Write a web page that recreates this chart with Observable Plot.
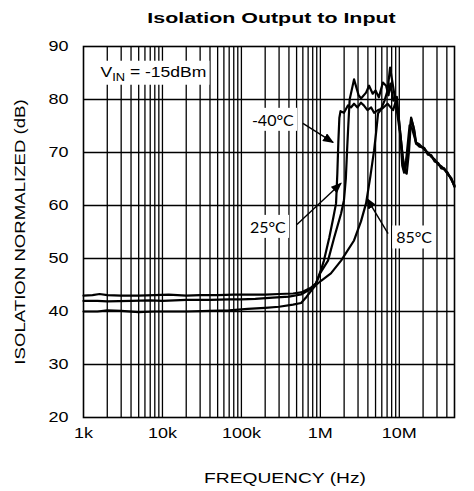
<!DOCTYPE html>
<html><head><meta charset="utf-8">
<script src="https://cdn.jsdelivr.net/npm/d3@7"></script>
<script src="https://cdn.jsdelivr.net/npm/@observablehq/plot@0.6"></script>
<style>body{margin:0;background:#fff} #chart svg{display:block}</style>
</head><body><div id="chart"></div>
<script>
// ---- axis / tick data ----
const xTicks = [1e3, 1e4, 1e5, 1e6, 1e7, 5e7];
const xTickLabels = ["1k", "10k", "100k", "1M", "10M", "50M"];
const yTicks = [20, 30, 40, 50, 60, 70, 80, 90];
const xGrid = [2e3,3e3,4e3,5e3,6e3,7e3,8e3,9e3,1e4,2e4,3e4,4e4,5e4,6e4,7e4,8e4,9e4,1e5,2e5,3e5,4e5,5e5,6e5,7e5,8e5,9e5,1e6,2e6,3e6,4e6,5e6,6e6,7e6,8e6,9e6,1e7,2e7,3e7,4e7];
const yGrid = [30, 40, 50, 60, 70, 80];

const titleText = "Isolation Output to Input";
const xLabel = "FREQUENCY (Hz)";
const yLabel = "ISOLATION NORMALIZED (dB)";

// ---- series (frequency in Hz, isolation in dB) ----
const freqM40 = [1e3,1.3e3,1.6e3,2e3,3e3,5e3,8e3,1.2e4,2e4,3e4,5e4,8e4,1.2e5,2e5,3e5,4.5e5,5.7e5,7.6e5,8.8e5,1.0e6,1.11e6,1.3e6,1.45e6,1.58e6,1.64e6,1.69e6,1.74e6,1.8e6,1.99e6,2.24e6,2.44e6,2.67e6,2.95e6,3.27e6,3.55e6,3.95e6,4.4e6,4.79e6,5.38e6,6.1e6,7.1e6,8.34e6,9.1e6,9.9e6,1.1e7,1.18e7,1.29e7,1.41e7,1.5e7,1.63e7,1.8e7,2.06e7,2.3e7,2.53e7,2.8e7,3.11e7,3.4e7,3.7e7,4.1e7,4.54e7,5e7];
const dbM40   = [43.0,43.1,43.3,43.1,43.0,43.0,43.1,43.2,43.0,43.1,43.1,43.2,43.2,43.2,43.3,43.4,43.6,44.5,45.3,47.5,49.6,54.0,57.5,60.4,66.0,72.0,76.5,77.8,77.5,78.9,78.5,79.2,78.5,79.4,78.9,78.0,78.5,77.5,78.0,78.3,79.2,78.0,79.8,76.0,69.4,66.6,70.4,76.4,75.0,71.7,71.3,70.8,69.8,69.4,68.5,67.9,67.2,67.0,66.0,65.1,63.6];

const freq25 = [1e3,1.5e3,2e3,4e3,7e3,1e4,2e4,4e4,7e4,1e5,1.5e5,2.5e5,4e5,5.7e5,7.6e5,8.8e5,1.0e6,1.25e6,1.5e6,1.83e6,1.99e6,2.1e6,2.18e6,2.24e6,2.35e6,2.67e6,3.05e6,3.27e6,3.79e6,4.14e6,4.6e6,5.0e6,5.5e6,6.2e6,6.8e6,7.3e6,7.7e6,8.4e6,9.3e6,1.02e7,1.09e7,1.15e7,1.22e7,1.35e7,1.45e7,1.63e7,1.8e7,2.06e7,2.3e7,2.53e7,2.8e7,3.11e7,3.4e7,3.7e7,4.1e7,4.54e7,5e7];
const db25   = [42.0,42.0,41.9,42.0,42.1,42.0,42.2,42.2,42.3,42.3,42.4,42.6,42.8,43.2,44.3,45.3,47.3,49.6,54.0,58.5,61.0,65.0,70.4,74.0,80.0,83.8,80.8,80.2,81.3,82.6,81.1,81.7,80.4,83.2,82.6,80.8,83.0,79.8,80.5,74.2,67.5,66.2,68.5,75.1,74.5,71.9,71.5,70.6,70.0,69.2,68.7,67.7,67.4,66.8,66.2,64.9,63.8];

const freq85 = [1e3,1.5e3,2e3,3e3,5e3,8e3,1.2e4,2e4,4e4,7e4,1.2e5,2e5,3e5,4.5e5,5.7e5,6.7e5,8e5,8.8e5,1.02e6,1.36e6,1.83e6,2.67e6,3.27e6,3.79e6,4.3e6,4.79e6,5.1e6,5.38e6,5.8e6,6.5e6,7.1e6,7.64e6,8.5e6,9.3e6,1.05e7,1.15e7,1.24e7,1.33e7,1.41e7,1.55e7,1.63e7,1.8e7,2.06e7,2.3e7,2.53e7,2.8e7,3.11e7,3.4e7,3.7e7,4.1e7,4.54e7,5e7];
const db85   = [40.0,40.0,40.2,40.1,39.9,40.0,40.0,40.0,40.1,40.2,40.5,40.7,40.9,41.3,41.6,42.8,44.3,45.0,45.8,47.2,49.6,53.4,57.0,60.4,65.5,70.4,74.0,77.4,78.0,79.8,81.7,86.0,81.7,78.0,72.3,66.6,66.0,70.4,76.6,74.2,71.7,71.1,70.9,69.6,69.5,68.3,68.0,67.0,66.9,65.9,65.2,63.5];

// ---- annotations ----
const tempLabels = ["-40°C", "25°C", "85°C"];
const tempLabelFreq = [2.5e5, 2.16e5, 1.54e7];
const tempLabelDb = [76.0, 55.8, 53.8];
const arrowFromFreq = [6.01e5, 5.05e5, 7.21e6];
const arrowFromDb = [75.5, 56.4, 54.7];
const arrowToFreq = [1.45e6, 1.83e6, 3.90e6];
const arrowToDb = [71.9, 64.2, 61.3];
const vinText = "VIN = -15dBm";
const vinFreq = [1.64e3];
const vinDb = [85.2];

// ---- build tables ----
const rows = [
  ...freqM40.map((f, i) => ({series: "-40°C", f, db: dbM40[i]})),
  ...freq25.map((f, i) => ({series: "25°C", f, db: db25[i]})),
  ...freq85.map((f, i) => ({series: "85°C", f, db: db85[i]}))
];
const arrows = tempLabels.map((t, i) => ({x1: arrowFromFreq[i], y1: arrowFromDb[i], x2: arrowToFreq[i], y2: arrowToDb[i]}));
const labels = tempLabels.map((t, i) => ({t, f: tempLabelFreq[i], db: tempLabelDb[i]}));
const vin = [{t: vinText, f: vinFreq[0], db: vinDb[0]}];

const chart = Plot.plot({
  width: 474, height: 491,
  marginTop: 46, marginBottom: 74, marginLeft: 83, marginRight: 20,
  style: {fontFamily: '"Liberation Sans", Arial, sans-serif', fontSize: "15px", color: "#000", background: "#fff", overflow: "visible"},
  x: {type: "log", domain: [1e3, 5e7], ticks: xTicks, tickFormat: d => xTickLabels[xTicks.indexOf(d)], tickSize: 0, tickPadding: 10, label: null},
  y: {domain: [20, 90], ticks: yTicks, tickSize: 0, tickPadding: 15, label: null},
  marks: [
    Plot.ruleX(xGrid, {stroke: "#000", strokeWidth: 1.3}),
    Plot.ruleY(yGrid, {stroke: "#000", strokeWidth: 1.3}),
    Plot.frame({stroke: "#000", strokeWidth: 1.6}),
    Plot.line(rows, {x: "f", y: "db", z: "series", stroke: "#000", strokeWidth: 2.2, strokeLinejoin: "round"}),
    Plot.link(arrows, {x1: "x1", y1: "y1", x2: "x2", y2: "y2", stroke: "#000", strokeWidth: 1.4}),
    Plot.text(labels, {x: "f", y: "db", text: "t", fontFamily: "Lato, 'Open Sans', sans-serif", fontSize: 16, fill: "#000"}),
    Plot.text(vin, {x: "f", y: "db", text: "t", textAnchor: "start", fontSize: 15, fill: "#000"}),
    Plot.text([titleText], {text: d => d, frameAnchor: "top", textAnchor: "middle", lineAnchor: "middle", dy: -28, dx: 2.5, fontWeight: "bold", fontSize: 15.5, fill: "#000"}),
    Plot.text([xLabel], {text: d => d, frameAnchor: "bottom", textAnchor: "middle", lineAnchor: "middle", dy: 61, dx: 16, fontSize: 15, fill: "#000"}),
    Plot.text([yLabel], {text: d => d, frameAnchor: "left", textAnchor: "middle", lineAnchor: "middle", dx: -63, rotate: -90, fontSize: 15, fill: "#000"})
  ]
});
document.getElementById("chart").append(chart);

// ---- post-processing: widen text, subscript, label backgrounds, arrowheads ----
const svg = chart.tagName.toLowerCase() === "svg" ? chart : chart.querySelector("svg");
const NS = "http://www.w3.org/2000/svg";
for (const t of svg.querySelectorAll("text")) {
  const s = t.textContent;
  if (s === vinText) {
    t.textContent = "";
    const a = document.createElementNS(NS, "tspan"); a.textContent = "V";
    const b = document.createElementNS(NS, "tspan"); b.textContent = "IN"; b.setAttribute("font-size", "11"); b.setAttribute("dy", "4");
    const c = document.createElementNS(NS, "tspan"); c.textContent = " = -15dBm"; c.setAttribute("dy", "-4");
    t.append(a, b, c);
  }
  let k = 1.2;
  if (tempLabels.includes(s)) k = 1.0;
  else if (s === titleText) k = 1.38;
  else if (s === xLabel) k = 1.28;
  else if (s === yLabel) k = 1.24;
  else if (s === vinText) k = 1.17;
  if (k !== 1) {
    const len = t.getComputedTextLength();
    t.setAttribute("textLength", (len * k).toFixed(1));
    t.setAttribute("lengthAdjust", "spacingAndGlyphs");
  }
  if (tempLabels.includes(s) || s === vinText) {
    const bb = t.getBBox();
    const r = document.createElementNS(NS, "rect");
    r.setAttribute("x", bb.x - 4); r.setAttribute("y", bb.y - 2);
    r.setAttribute("width", bb.width + 7); r.setAttribute("height", bb.height + 4);
    r.setAttribute("fill", "#fff"); r.setAttribute("stroke", "none");
    if (t.getAttribute("transform")) r.setAttribute("transform", t.getAttribute("transform"));
    t.parentNode.insertBefore(r, t);
  }
}
const defs = document.createElementNS(NS, "defs");
defs.innerHTML = '<marker id="tri" viewBox="0 0 11 9" refX="10" refY="4.5" markerWidth="11" markerHeight="9" markerUnits="userSpaceOnUse" orient="auto"><path d="M0,0L11,4.5L0,9Z" fill="#000"/></marker>';
svg.insertBefore(defs, svg.firstChild);
for (const p of svg.querySelectorAll('g[aria-label="link"] path, g[aria-label="link"] line')) {
  p.setAttribute("marker-end", "url(#tri)");
}
</script>
</body></html>
